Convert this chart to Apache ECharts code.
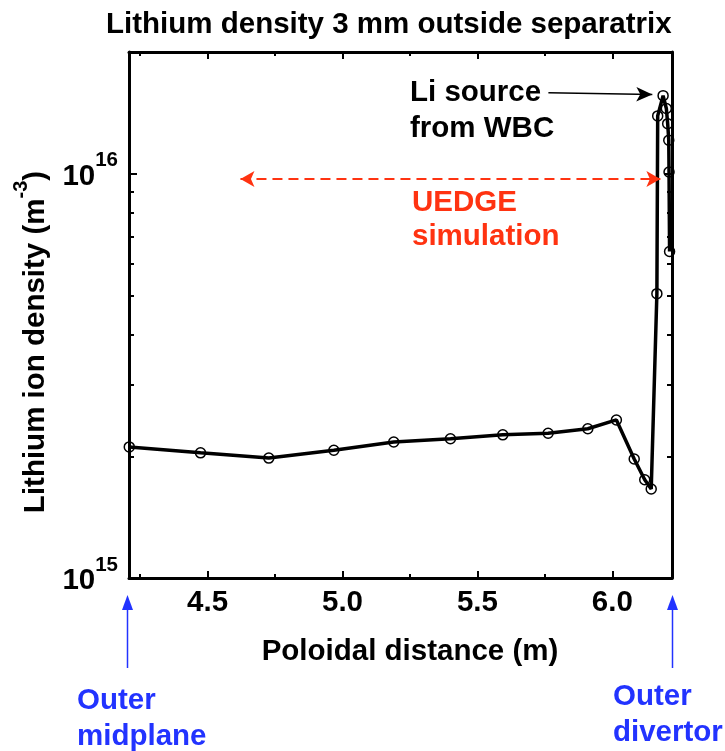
<!DOCTYPE html>
<html>
<head>
<meta charset="utf-8">
<script src="https://cdn.jsdelivr.net/npm/echarts@6/dist/echarts.min.js"></script>
<style>
  html, body { margin: 0; padding: 0; background: #fff; }
  #chart { width: 725px; height: 751px; }
</style>
</head>
<body>
<div id="chart"></div>
<script>
// Poloidal distance along the flux surface (m) and Li ion density (m^-3)
const distance = [4.21, 4.474, 4.727, 4.968, 5.19, 5.40, 5.594, 5.762, 5.909, 6.015,
                  6.081, 6.120, 6.144, 6.165, 6.168, 6.188, 6.200, 6.205, 6.209, 6.210, 6.212];
const density = [2.11e15, 2.04e15, 1.98e15, 2.07e15, 2.17e15, 2.21e15, 2.26e15, 2.28e15, 2.34e15, 2.46e15,
                 1.97e15, 1.75e15, 1.66e15, 5.05e15, 1.39e16, 1.56e16, 1.45e16, 1.33e16, 1.21e16, 1.01e16, 6.42e15];

// Axis ranges and tick positions
const xRange = [4.209, 6.221];
const yRange = [1e15, 2e16];
const xMajorTicks = [4.5, 5.0, 5.5, 6.0];
const xMinorTicks = [4.25, 4.75, 5.25, 5.75];
const yMajorTicks = [1e15, 1e16];
const yMinorTicks = [2e15, 3e15, 4e15, 5e15, 6e15, 7e15, 8e15, 9e15, 2e16];

// Annotation arrows in data coordinates
const uedgeSpan = [[4.622, 9.7e15], [6.178, 9.7e15]];
const sourceArrow = [[5.763, 1.586e16], [6.148, 1.57e16]];

const FONT = "'Liberation Sans', Arial, Helvetica, sans-serif";
const FS = 29.5;
const RED = '#ff3311';
const BLUE = '#2233ff';

function xAxisDef(position, ticks, len, showLine, showLabel) {
  return {
    type: 'value', position: position, min: xRange[0], max: xRange[1],
    axisLine: { show: showLine, onZero: false, lineStyle: { color: '#000', width: 3 } },
    axisTick: { show: true, inside: true, length: len, customValues: ticks, lineStyle: { color: '#000', width: 2 } },
    axisLabel: showLabel ? {
      show: true, customValues: ticks, margin: 10,
      fontFamily: FONT, fontWeight: 'bold', fontSize: FS, color: '#000',
      formatter: v => Number(v).toFixed(1)
    } : { show: false },
    splitLine: { show: false }
  };
}

function yAxisDef(position, ticks, len, showLine, showLabel) {
  return {
    type: 'log', logBase: 10, position: position, min: yRange[0], max: yRange[1],
    axisLine: { show: showLine, onZero: false, lineStyle: { color: '#000', width: 3 } },
    axisTick: { show: true, inside: true, length: len, customValues: ticks, lineStyle: { color: '#000', width: 2 } },
    axisLabel: showLabel ? {
      show: true, customValues: ticks, margin: 11,
      formatter: v => '{b|10}{s|' + Math.round(Math.log10(v)) + '}',
      rich: {
        b: { fontFamily: FONT, fontWeight: 'bold', fontSize: FS, color: '#000', padding: [6, 0, 0, 0] },
        s: { fontFamily: FONT, fontWeight: 'bold', fontSize: 20.5, color: '#000', padding: [0, 0, 26, 0] }
      }
    } : { show: false },
    splitLine: { show: false }
  };
}

const points = distance.map((d, i) => [d, density[i]]);

const chart = echarts.init(document.getElementById('chart'), null, { renderer: 'canvas' });

chart.setOption({
  animation: false,
  backgroundColor: '#fff',
  title: {
    text: 'Lithium density 3 mm outside separatrix',
    left: 101, top: 5,
    textStyle: { fontFamily: FONT, fontWeight: 'bold', fontSize: FS, color: '#000' }
  },
  grid: { left: 129, right: 53, top: 52, bottom: 173, containLabel: false },
  xAxis: [
    xAxisDef('bottom', xMajorTicks, 7, true, true),
    xAxisDef('bottom', xMinorTicks, 4, false, false),
    xAxisDef('top', xMajorTicks, 7, true, false),
    xAxisDef('top', xMinorTicks, 4, false, false)
  ],
  yAxis: [
    yAxisDef('left', yMajorTicks, 8, true, true),
    yAxisDef('left', yMinorTicks, 5, false, false),
    yAxisDef('right', yMajorTicks, 8, true, false),
    yAxisDef('right', yMinorTicks, 5, false, false)
  ],
  series: [{
    type: 'line',
    data: points,
    xAxisIndex: 0, yAxisIndex: 0,
    symbol: 'circle',
    symbolSize: 10,
    lineStyle: { color: '#000', width: 3.5 },
    itemStyle: { color: 'rgba(0,0,0,0)', borderColor: '#000', borderWidth: 1.5 },
    clip: false,
    markLine: {
      silent: true,
      animation: false,
      label: { show: false },
      data: [
        [
          { coord: uedgeSpan[0], symbol: 'arrow', symbolSize: [12, 14],
            lineStyle: { color: RED, width: 2, type: [10, 6] } },
          { coord: uedgeSpan[1], symbol: 'arrow', symbolSize: [12, 14] }
        ],
        [
          { coord: sourceArrow[0], symbol: 'none',
            lineStyle: { color: '#000', width: 1.5, type: 'solid' } },
          { coord: sourceArrow[1], symbol: 'arrow', symbolSize: [11, 16] }
        ]
      ]
    }
  }],
  graphic: [
    // axis titles
    {
      type: 'text', x: 410, y: 652,
      style: { text: 'Poloidal distance (m)', fontFamily: FONT, fontWeight: 'bold', fontSize: FS,
               fill: '#000', align: 'center', verticalAlign: 'middle' }
    },
    {
      type: 'text', x: 33, y: 342, rotation: Math.PI / 2,
      style: {
        text: '{b|Lithium ion density (m}{s|-3}{b|)}',
        align: 'center', verticalAlign: 'middle',
        rich: {
          b: { fontFamily: FONT, fontWeight: 'bold', fontSize: FS, fill: '#000', padding: [6, 0, 0, 0] },
          s: { fontFamily: FONT, fontWeight: 'bold', fontSize: 20, fill: '#000', padding: [0, 0, 24, 0] }
        }
      }
    },
    // in-plot annotations
    {
      type: 'text', x: 410, y: 111,
      style: { text: 'Li source\nfrom WBC', fontFamily: FONT, fontWeight: 'bold', fontSize: FS,
               lineHeight: 36, fill: '#000', align: 'left', verticalAlign: 'middle' }
    },
    {
      type: 'text', x: 412, y: 220,
      style: { text: 'UEDGE\nsimulation', fontFamily: FONT, fontWeight: 'bold', fontSize: FS,
               lineHeight: 34, fill: RED, align: 'left', verticalAlign: 'middle' }
    },
    // location markers below the axis
    { type: 'line', shape: { x1: 127.5, y1: 668, x2: 127.5, y2: 606 }, style: { stroke: BLUE, lineWidth: 1.5 } },
    { type: 'polygon', shape: { points: [[127.5, 595], [122, 610], [133, 610]] }, style: { fill: BLUE } },
    { type: 'line', shape: { x1: 672.5, y1: 668, x2: 672.5, y2: 606 }, style: { stroke: BLUE, lineWidth: 1.5 } },
    { type: 'polygon', shape: { points: [[672.5, 595], [667, 610], [678, 610]] }, style: { fill: BLUE } },
    {
      type: 'text', x: 77, y: 719,
      style: { text: 'Outer\nmidplane', fontFamily: FONT, fontWeight: 'bold', fontSize: FS,
               lineHeight: 36, fill: BLUE, align: 'left', verticalAlign: 'middle' }
    },
    {
      type: 'text', x: 613, y: 715,
      style: { text: 'Outer\ndivertor', fontFamily: FONT, fontWeight: 'bold', fontSize: FS,
               lineHeight: 36, fill: BLUE, align: 'left', verticalAlign: 'middle' }
    }
  ]
});
</script>
</body>
</html>
